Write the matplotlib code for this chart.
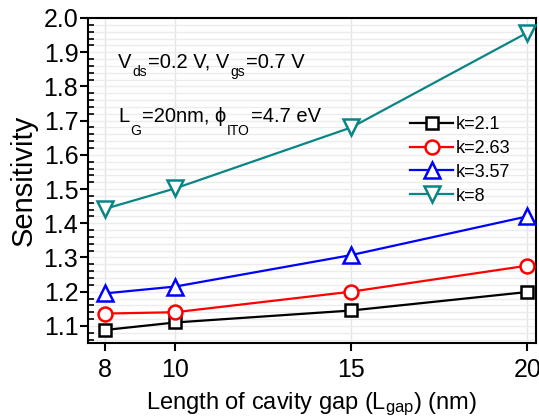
import numpy as np
import matplotlib.pyplot as plt
from matplotlib.ticker import MultipleLocator

plt.rcParams['font.family'] = ['Liberation Sans', 'DejaVu Sans']
plt.rcParams['mathtext.fontset'] = 'custom'
plt.rcParams['mathtext.rm'] = 'Liberation Sans'
plt.rcParams['mathtext.it'] = 'Liberation Sans:italic'

# cavity gap length (nm)
gap = [8, 10, 15, 20]

# sensitivity for each dielectric constant
sens_k21 = [1.088, 1.110, 1.145, 1.199]
sens_k263 = [1.136, 1.140, 1.200, 1.276]
sens_k357 = [1.195, 1.215, 1.307, 1.420]
sens_k8 = [1.442, 1.502, 1.680, 1.957]

labels = ['k=2.1', 'k=2.63', 'k=3.57', 'k=8']
series = [sens_k21, sens_k263, sens_k357, sens_k8]
colors = ['black', 'red', 'blue', '#0a8585']
markers = ['s', 'o', '^', 'v']
msizes = [9, 10, 11, 11]

W, H = 539, 419
fig = plt.figure(figsize=(W / 100, H / 100), dpi=100)
ax = fig.add_axes([88 / W, 1 - 343 / H, 448 / W, 325 / H])


def rich_text(x0, y0, parts, size, subsize, drop):
    """Draw text pieces one after another from pixel (x0, y0), with
    lowered subscripts; y0 is the baseline in pixels from the top."""
    renderer = fig.canvas.get_renderer()
    x = x0
    for s, sub in parts:
        fs = subsize if sub else size
        yb = y0 + (drop if sub else 0)
        t = fig.text(x / W, 1 - yb / H, s, fontsize=fs, va='baseline',
                     ha='left')
        x += t.get_window_extent(renderer).width + 1


for vals, lab, c, m, ms in zip(series, labels, colors, markers, msizes):
    ax.plot(gap, vals, color=c, lw=1.6, marker=m, ms=ms, mfc='white',
            mec=c, mew=1.8, label=lab, zorder=3)

ax.set_xlim(7.52, 20.25)
ax.set_ylim(1.05, 2.0)
ax.set_xticks([8, 10, 15, 20])
ax.yaxis.set_major_locator(MultipleLocator(0.1))
ax.yaxis.set_minor_locator(MultipleLocator(0.02))
ax.yaxis.set_major_formatter(plt.FormatStrFormatter('%.1f'))

ax.tick_params(axis='both', which='major', labelsize=18, direction='out',
               length=6, width=1.5)
ax.tick_params(axis='y', which='major', pad=1)
ax.tick_params(axis='y', which='minor', direction='in', length=4, width=1.2)
ax.tick_params(axis='x', which='major', pad=5)

ax.grid(True, axis='x', which='major', color='#e4e4e4', lw=1)
ax.grid(True, axis='y', which='both', color='#ececec', lw=1)
ax.set_axisbelow(True)

for sp in ax.spines.values():
    sp.set_linewidth(1.5)

ax.set_xlabel(r'Length of cavity gap (L$_{\mathrm{gap}}$) (nm)', fontsize=17,
              labelpad=6)
ax.set_ylabel('Sensitivity', fontsize=21, labelpad=4)

rich_text(118, 68, [('V', False), ('ds', True), ('=0.2 V, V', False),
                    ('gs', True), ('=0.7 V', False)], 14.5, 10, 8)
rich_text(118, 122, [('L', False), ('G', True), ('=20nm, ϕ', False),
                     ('ITO', True), ('=4.7 eV', False)], 14.5, 10, 13)

ax.legend(loc='upper left', bbox_to_anchor=(410 / W, 1 - 116 / H),
          bbox_transform=fig.transFigure, frameon=False,
          fontsize=13, handlelength=2.4, handletextpad=0.15,
          labelspacing=0.38, borderaxespad=0, borderpad=0)

fig.savefig('out.png', dpi=100)
